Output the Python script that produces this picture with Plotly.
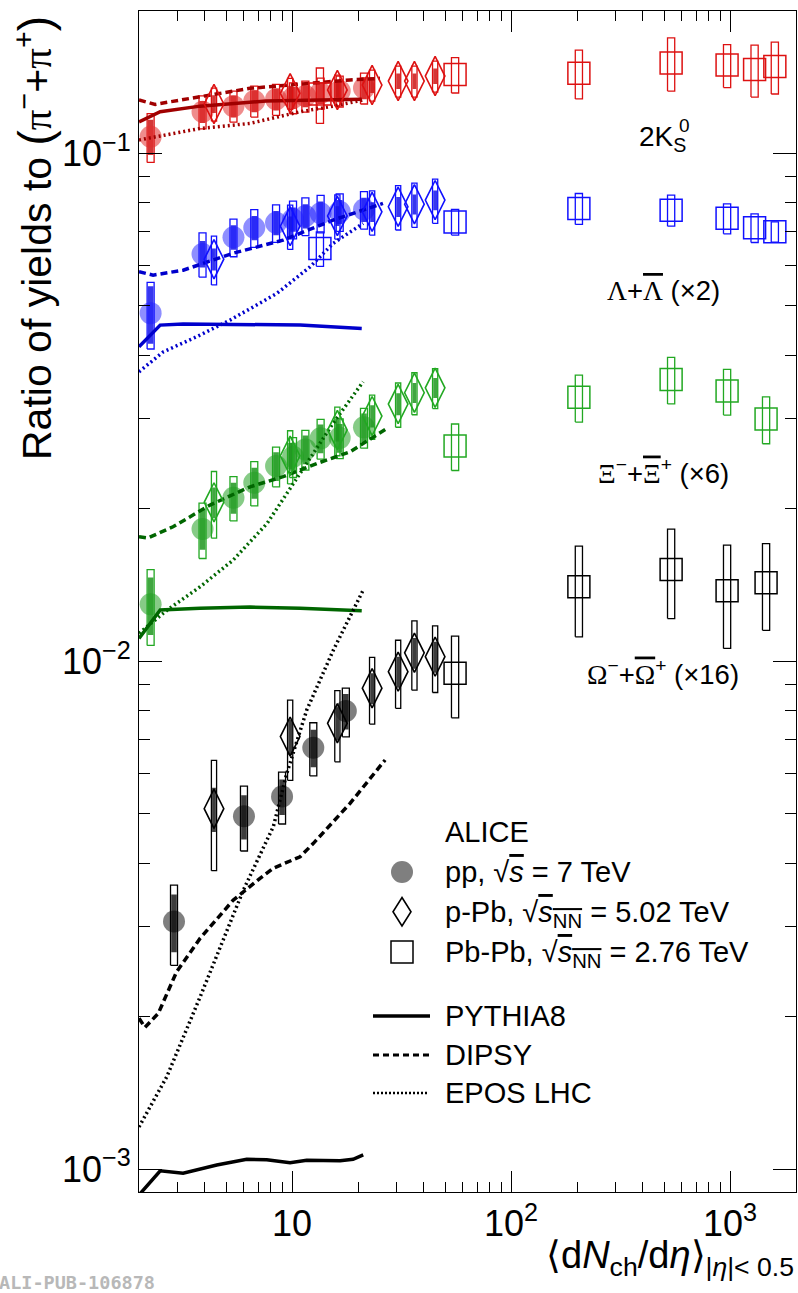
import math
import plotly.graph_objects as go

# ---------------------------------------------------------------- data
# <dNch/deta> of the multiplicity classes
PP_X = [2.26, 3.90, 5.40, 6.72, 8.45, 10.1, 11.5, 13.5, 16.5, 21.3]
PP_X_OM = [2.89, 6.03, 9.0, 12.5, 17.6]
PPB_X = [4.4, 9.8, 16.1, 23.2, 30.5, 36.2, 45.0]
PBPB_X = [13.4, 55.5, 204, 538, 969, 1294, 1601]
PBPB_X_MS = [55.5, 204, 538, 969, 1460]

# 2K0s / (pi+ + pi-)
K_PP = [0.1077, 0.1206, 0.1237, 0.1266, 0.1276, 0.1285, 0.1295, 0.1313, 0.1325, 0.1343]
K_PP_SYS = [0.11, 0.075, 0.07, 0.07, 0.07, 0.07, 0.07, 0.07, 0.07, 0.07]
K_PP_UNC = [0.08, 0.05, 0.05, 0.05, 0.05, 0.05, 0.05, 0.05, 0.05, 0.05]
K_PPB = [0.1249, 0.1311, 0.1331, 0.1361, 0.1386, 0.1386, 0.1418]
K_PPB_SYS = [0.075, 0.07, 0.07, 0.07, 0.07, 0.07, 0.07]
K_PPB_UNC = [0.04, 0.035, 0.035, 0.035, 0.035, 0.035, 0.035]
K_PBPB = [0.1307, 0.1427, 0.1436, 0.1505, 0.1490, 0.1460, 0.1480]
K_PBPB_SYS = [0.125, 0.08, 0.11, 0.12, 0.097, 0.117, 0.117]

# (Lambda + anti-Lambda) x 2
L_PP = [0.0484, 0.0633, 0.0683, 0.0713, 0.0729, 0.0741, 0.0752, 0.0761, 0.0766, 0.0774]
L_PP_SYS = [0.15, 0.10, 0.085, 0.085, 0.085, 0.085, 0.085, 0.085, 0.085, 0.085]
L_PP_UNC = [0.13, 0.06, 0.055, 0.055, 0.055, 0.055, 0.055, 0.055, 0.055, 0.055]
L_PPB = [0.0618, 0.0718, 0.0752, 0.0766, 0.0784, 0.0793, 0.0808]
L_PPB_SYS = [0.11, 0.10, 0.10, 0.10, 0.10, 0.10, 0.10]
L_PPB_UNC = [0.05, 0.045, 0.045, 0.045, 0.045, 0.045, 0.045]
L_PBPB = [0.0649, 0.0732, 0.0778, 0.0772, 0.0744, 0.0713, 0.0700]
L_PBPB_SYS = [0.078, 0.058, 0.07, 0.07, 0.068, 0.065, 0.046]

# (Xi- + anti-Xi+) x 6
XI_PP = [0.01293, 0.01819, 0.02097, 0.02244, 0.0242, 0.02525, 0.0261, 0.02744, 0.0275, 0.02884]
XI_PP_SYS = [0.17, 0.125, 0.10, 0.10, 0.09, 0.09, 0.09, 0.09, 0.09, 0.09]
XI_PP_UNC = [0.13, 0.09, 0.07, 0.07, 0.065, 0.065, 0.065, 0.065, 0.065, 0.065]
XI_PPB = [0.02053, 0.02536, 0.02849, 0.03035, 0.03206, 0.03374, 0.03451]
XI_PPB_SYS = [0.15, 0.12, 0.11, 0.10, 0.10, 0.095, 0.09]
XI_PPB_UNC = [0.07, 0.06, 0.05, 0.05, 0.05, 0.045, 0.045]
XI_PBPB = [0.0265, 0.03305, 0.03584, 0.0340, 0.02995]
XI_PBPB_SYS = [0.105, 0.106, 0.105, 0.103, 0.106]

# (Omega- + anti-Omega+) x 16
OM_PP = [0.00307, 0.00495, 0.00541, 0.00675, 0.00797]
OM_PP_SYS = [0.18, 0.146, 0.117, 0.12, 0.11]
OM_PP_UNC = [0.13, 0.10, 0.08, 0.085, 0.08]
OM_PPB = [0.00512, 0.0071, 0.00754, 0.00884, 0.00953, 0.01038, 0.0102]
OM_PPB_SYS = [0.245, 0.18, 0.16, 0.15, 0.153, 0.156, 0.15]
OM_PPB_UNC = [0.10, 0.08, 0.075, 0.07, 0.07, 0.07, 0.07]
OM_PBPB = [0.00946, 0.0140, 0.01515, 0.01375, 0.01426]
OM_PBPB_SYS = [0.183, 0.203, 0.20, 0.23, 0.194]

# model curves
K_PYT_X = [2.0, 2.5, 3.8, 7.6, 20.8]
K_PYT_Y = [0.1152, 0.1206, 0.1237, 0.1266, 0.1276]
K_DIP_X = [2.0, 2.37, 3.80, 6.43, 10.88, 18.4, 25.2]
K_DIP_Y = [0.1272, 0.1247, 0.1291, 0.1341, 0.1367, 0.1393, 0.1403]
K_EPO_X = [2.0, 3.80, 6.43, 10.88, 15.4, 21.1]
K_EPO_Y = [0.1061, 0.1118, 0.1144, 0.1206, 0.1237, 0.1272]

L_PYT_X = [2.0, 2.5, 3.18, 5.38, 10.88, 20.8]
L_PYT_Y = [0.04157, 0.04585, 0.0461, 0.04604, 0.04585, 0.04517]
L_DIP_X = [2.0, 2.32, 3.18, 5.38, 9.10, 15.39, 26.0]
L_DIP_Y = [0.0584, 0.0575, 0.0588, 0.0635, 0.0674, 0.0738, 0.0796]
L_EPO_X = [2.0, 2.58, 3.67, 5.21, 8.51, 12.08, 15.4, 21.1]
L_EPO_Y = [0.0371, 0.0406, 0.0435, 0.0469, 0.0529, 0.0597, 0.0664, 0.0727]

XI_PYT_X = [2.0, 2.5, 3.8, 6.43, 10.88, 20.8]
XI_PYT_Y = [0.01108, 0.0126, 0.0127, 0.01277, 0.0127, 0.01256]
XI_DIP_X = [2.0, 2.2, 2.86, 4.22, 6.43, 9.10, 13.0, 18.4, 27.15]
XI_DIP_Y = [0.01757, 0.01747, 0.01838, 0.02028, 0.02203, 0.02306, 0.02449, 0.02582, 0.02871]
XI_EPO_X = [2.0, 2.69, 3.80, 5.38, 7.69, 10.88, 15.39, 21.1]
XI_EPO_Y = [0.01134, 0.0126, 0.0140, 0.0158, 0.01866, 0.02342, 0.02937, 0.03546]

OM_PYT_X = [2.0, 2.09, 2.5, 3.18, 4.53, 6.21, 7.66, 9.79, 11.67, 16.57, 18.99, 21.13]
OM_PYT_Y = [0.000889, 0.000909, 0.000992, 0.000981, 0.001018, 0.001045, 0.001043,
            0.001029, 0.00104, 0.001038, 0.001045, 0.001066]
OM_DIP_X = [2.0, 2.13, 2.45, 2.97, 3.80, 5.39, 7.14, 8.21, 10.88, 12.51, 18.40, 26.6]
OM_DIP_Y = [0.00198, 0.0019, 0.002025, 0.002445, 0.002844, 0.003384, 0.003735, 0.00391,
            0.004118, 0.004376, 0.005247, 0.006385]
OM_EPO_X = [2.0, 2.68, 3.80, 5.39, 5.99, 8.21, 9.46, 11.67, 15.42, 21.13]
OM_EPO_Y = [0.00121, 0.00152, 0.00218, 0.00314, 0.00354, 0.00472, 0.00601, 0.00801, 0.0105, 0.0138]

X_TICKS = [10, 100, 1000]
X_TICKTEXT = ["10", "10<sup>2</sup>", "10<sup>3</sup>"]
X_MINOR = [3, 4, 5, 6, 7, 8, 9, 20, 30, 40, 50, 60, 70, 80, 90,
           200, 300, 400, 500, 600, 700, 800, 900]
Y_TICKS = [0.001, 0.01, 0.1]
Y_TICKTEXT = ["10<sup>−3</sup>", "10<sup>−2</sup>", "10<sup>−1</sup>"]
Y_MINOR = [0.002, 0.003, 0.004, 0.005, 0.006, 0.007, 0.008, 0.009,
           0.02, 0.03, 0.04, 0.05, 0.06, 0.07, 0.08, 0.09]

# ---------------------------------------------------------------- layout geometry
W, H = 798, 1293
PL, PT, PW, PH = 139, 11, 657, 1181
X_RANGE = [math.log10(2.0), math.log10(2000.0)]
Y_RANGE = [math.log10(0.000901), math.log10(0.1904)]
PX_DEC = PW / (X_RANGE[1] - X_RANGE[0])
FONT = "Liberation Sans, Arial, Helvetica, sans-serif"
SERIF = "Liberation Serif, Times New Roman, serif"

SPECIES = [
    # data colour, circle colour, filled-box colour, model colour
    dict(c="#dd1111", fill="rgba(225,45,45,0.55)", box="rgba(205,20,20,0.85)", m="#a00000",
         pp=(PP_X, K_PP, K_PP_SYS, K_PP_UNC), ppb=(PPB_X, K_PPB, K_PPB_SYS, K_PPB_UNC),
         pbpb=(PBPB_X, K_PBPB, K_PBPB_SYS),
         models=[(K_PYT_X, K_PYT_Y), (K_DIP_X, K_DIP_Y), (K_EPO_X, K_EPO_Y)]),
    dict(c="#1010ff", fill="rgba(30,30,255,0.5)", box="rgba(20,20,235,0.85)", m="#0000cc",
         pp=(PP_X, L_PP, L_PP_SYS, L_PP_UNC), ppb=(PPB_X, L_PPB, L_PPB_SYS, L_PPB_UNC),
         pbpb=(PBPB_X, L_PBPB, L_PBPB_SYS),
         models=[(L_PYT_X, L_PYT_Y), (L_DIP_X, L_DIP_Y), (L_EPO_X, L_EPO_Y)]),
    dict(c="#22a822", fill="rgba(35,160,35,0.55)", box="rgba(30,150,30,0.85)", m="#006600",
         pp=(PP_X, XI_PP, XI_PP_SYS, XI_PP_UNC), ppb=(PPB_X, XI_PPB, XI_PPB_SYS, XI_PPB_UNC),
         pbpb=(PBPB_X_MS, XI_PBPB, XI_PBPB_SYS),
         models=[(XI_PYT_X, XI_PYT_Y), (XI_DIP_X, XI_DIP_Y), (XI_EPO_X, XI_EPO_Y)]),
    dict(c="#000000", fill="rgba(0,0,0,0.5)", box="rgba(40,40,40,0.9)", m="#000000",
         pp=(PP_X_OM, OM_PP, OM_PP_SYS, OM_PP_UNC), ppb=(PPB_X, OM_PPB, OM_PPB_SYS, OM_PPB_UNC),
         pbpb=(PBPB_X_MS, OM_PBPB, OM_PBPB_SYS),
         models=[(OM_PYT_X, OM_PYT_Y), (OM_DIP_X, OM_DIP_Y), (OM_EPO_X, OM_EPO_Y)]),
]
MODEL_STYLE = [dict(width=3.5), dict(width=3.5, dash="7px,4px"), dict(width=3.5, dash="2px,3px")]


def boxes(xs, ys, rel, half_px):
    """Rectangles of constant pixel width around each point (log x axis)."""
    r = 10 ** (half_px / PX_DEC)
    bx, by = [], []
    for x, y, s in zip(xs, ys, rel):
        bx += [x / r, x * r, x * r, x / r, x / r, None]
        by += [y * (1 - s), y * (1 - s), y * (1 + s), y * (1 + s), y * (1 - s), None]
    return bx, by


def box_trace(xs, ys, rel, half_px, color, filled):
    bx, by = boxes(xs, ys, rel, half_px)
    if filled:
        return go.Scatter(x=bx, y=by, mode="lines", fill="toself", fillcolor=color,
                          line=dict(width=0, color=color), hoverinfo="skip", showlegend=False)
    return go.Scatter(x=bx, y=by, mode="lines", line=dict(width=1.3, color=color),
                      hoverinfo="skip", showlegend=False)


fig = go.Figure()

# pp: open total-sys box, filled uncorrelated box, translucent circle
for sp in SPECIES:
    x, y, sys_, unc = sp["pp"]
    fig.add_trace(box_trace(x, y, sys_, 3.5, sp["c"], False))
    fig.add_trace(box_trace(x, y, unc, 2.8, sp["box"], True))
    fig.add_trace(go.Scatter(x=x, y=y, mode="markers", showlegend=False,
                             marker=dict(symbol="circle", size=22, color=sp["fill"], line=dict(width=0))))
    x, y, sys_, unc = sp["ppb"]
    fig.add_trace(box_trace(x, y, sys_, 2.6, sp["c"], False))
    fig.add_trace(box_trace(x, y, unc, 1.9, sp["box"], True))
    x, y, sys_ = sp["pbpb"]
    fig.add_trace(box_trace(x, y, sys_, 3.6, sp["c"], False))

# model curves
for sp in SPECIES:
    for (mx, my), st in zip(sp["models"], MODEL_STYLE):
        fig.add_trace(go.Scatter(x=mx, y=my, mode="lines", showlegend=False, hoverinfo="skip",
                                 line=dict(color=sp["m"], **st)))

# p-Pb diamonds and Pb-Pb squares
for sp in SPECIES:
    x, y = sp["ppb"][0], sp["ppb"][1]
    fig.add_trace(go.Scatter(x=x, y=y, mode="markers", showlegend=False,
                             marker=dict(symbol="diamond-tall-open", size=28, color=sp["c"],
                                         line=dict(width=1.6, color=sp["c"]))))
    x, y = sp["pbpb"][0], sp["pbpb"][1]
    fig.add_trace(go.Scatter(x=x, y=y, mode="markers", showlegend=False,
                             marker=dict(symbol="square-open", size=22, color=sp["c"],
                                         line=dict(width=1.5, color=sp["c"]))))


# ---------------------------------------------------------------- text & legend
def px(xp):
    return (xp - PL) / PW


def py(yp):
    return (PT + PH - yp) / PH


ann = []


def text(xp, yp, s, size=29, xanchor="left", yanchor="middle", **kw):
    ann.append(dict(x=px(xp), y=py(yp), xref="paper", yref="paper", text=s, showarrow=False,
                    xanchor=xanchor, yanchor=yanchor, font=dict(family=FONT, size=size, color="black"),
                    **kw))


def g(ch):
    return f"<span style='font-family:{SERIF}'>{ch}</span>"


def bar(ch):
    return f"<span style='text-decoration:overline;font-family:{SERIF}'>{ch}</span>"


# species labels
text(662, 139, "2K<sub>S</sub>", 28, xanchor="center")
text(677, 126, "0", 19, xanchor="left")
text(663, 291, f"{g('Λ')}+{bar('Λ')} (×2)", 27.5, xanchor="center")
text(663, 472, f"{g('Ξ')}<sup>−</sup>+{bar('Ξ')}<sup>+</sup> (×6)", 27.5, xanchor="center")
text(663, 672, f"{g('Ω')}<sup>−</sup>+{bar('Ω')}<sup>+</sup> (×16)", 27.5, xanchor="center")

# legend
SQ = "<span style='text-decoration:overline'>"
text(443, 832, "ALICE")
text(443, 872, f"pp, √{SQ}<i>s</i></span> = 7 TeV")
text(443, 914, f"p-Pb, √{SQ}<i>s</i><sub>NN</sub></span> = 5.02 TeV")
text(443, 954, f"Pb-Pb, √{SQ}<i>s</i><sub>NN</sub></span> = 2.76 TeV")
text(443, 1016, "PYTHIA8")
text(443, 1055, "DIPSY")
text(443, 1093, "EPOS LHC")

shapes = [
    dict(type="circle", xref="paper", yref="paper", x0=px(391), x1=px(413), y0=py(883), y1=py(861),
         fillcolor="rgba(0,0,0,0.5)", line=dict(width=0)),
    dict(type="path", xref="paper", yref="paper",
         path=f"M{px(402)},{py(897.5)} L{px(411)},{py(911.7)} L{px(402)},{py(926)} L{px(393)},{py(911.7)} Z",
         line=dict(color="black", width=1.6)),
    dict(type="rect", xref="paper", yref="paper", x0=px(391), x1=px(413), y0=py(963), y1=py(941),
         line=dict(color="black", width=1.5)),
    dict(type="line", xref="paper", yref="paper", x0=px(373), x1=px(430), y0=py(1016), y1=py(1016),
         line=dict(color="black", width=3.5)),
    dict(type="line", xref="paper", yref="paper", x0=px(373), x1=px(430), y0=py(1055), y1=py(1055),
         line=dict(color="black", width=3, dash="6px,4px")),
    dict(type="line", xref="paper", yref="paper", x0=px(373), x1=px(428), y0=py(1093), y1=py(1093),
         line=dict(color="black", width=2.5, dash="2px,2px")),
]

# axis titles
text(35, 14, "Ratio of yields to <span style='font-size:46px'>(</span>"
     f"{g('π')}<sup>−</sup>+{g('π')}<sup>+</sup><span style='font-size:46px'>)</span>",
     41, xanchor="center", yanchor="top", textangle=-90)
text(796, 1232, "⟨d<i>N</i><sub>ch</sub>/d<i>η</i>⟩<sub>|<i>η</i>|&lt; 0.5</sub>", 38,
     xanchor="right", yanchor="top")
ann.append(dict(x=px(-3), y=py(1282), xref="paper", yref="paper", text="<b>ALI-PUB-106878</b>",
                showarrow=False, xanchor="left", yanchor="middle",
                font=dict(family="DejaVu Sans Mono, monospace", size=18.5, color="#b8b8b8")))

axis_common = dict(type="log", showgrid=False, zeroline=False, showline=True, linecolor="black",
                   linewidth=1.3, mirror="ticks", ticks="inside", tickwidth=1.2, tickcolor="black",
                   tickfont=dict(family=FONT, size=36, color="black"))
fig.update_xaxes(range=X_RANGE, tickvals=X_TICKS, ticktext=X_TICKTEXT, ticklen=21,
                 minor=dict(tickvals=X_MINOR, ticks="inside", ticklen=10, tickwidth=1.2,
                            tickcolor="black"), **axis_common)
fig.update_yaxes(range=Y_RANGE, tickvals=Y_TICKS, ticktext=Y_TICKTEXT, ticklen=23,
                 minor=dict(tickvals=Y_MINOR, ticks="inside", ticklen=11, tickwidth=1.2,
                            tickcolor="black"), **axis_common)
fig.update_layout(width=W, height=H, margin=dict(l=PL, r=W - PL - PW, t=PT, b=H - PT - PH),
                  plot_bgcolor="white", paper_bgcolor="white", showlegend=False,
                  annotations=ann, shapes=shapes, font=dict(family=FONT, color="black"))
fig.write_html("out.html", config={"displayModeBar": False},
               post_script="document.body.style.margin='0px';")
